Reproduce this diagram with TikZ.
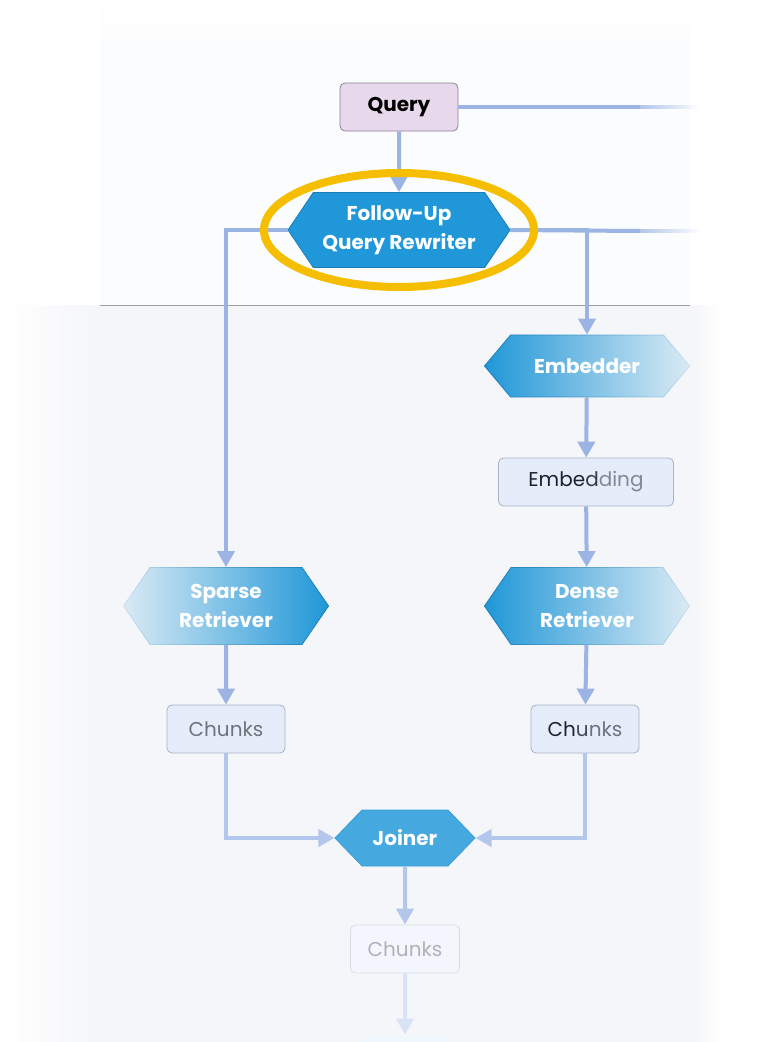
\documentclass[tikz,border=0pt]{standalone}
\usepackage{fontspec}
\setmainfont{Poppins}
\usetikzlibrary{shapes.symbols,arrows.meta,fadings}

\definecolor{flowc}{HTML}{9BB4E4}
\definecolor{flowlight}{HTML}{B3C7EC}
\definecolor{flowpale}{HTML}{D9E3F5}
\definecolor{hexblue}{HTML}{1F97D8}
\definecolor{joinblue}{HTML}{45A8DE}
\definecolor{hexedge}{HTML}{1A7DB5}
\definecolor{queryfill}{HTML}{E7D9EB}
\definecolor{queryedge}{HTML}{8E8096}
\definecolor{boxfill}{HTML}{E5EDFA}
\definecolor{boxedge}{HTML}{A9B3C6}
\definecolor{ring}{HTML}{F6BE00}
\definecolor{panel}{HTML}{F5F6F9}
\definecolor{inkdark}{HTML}{1E2230}
\definecolor{inkgrey}{HTML}{6F737C}

% soft edges
\tikzfading[name=fade east, left color=transparent!0, right color=transparent!100]
\tikzfading[name=fade west, left color=transparent!100, right color=transparent!0]
\tikzfading[name=fade north, top color=transparent!100, bottom color=transparent!0]
\tikzfading[name=hex east, left color=transparent!0, middle color=transparent!0, right color=transparent!88]
\tikzfading[name=hex west, left color=transparent!88, middle color=transparent!0, right color=transparent!0]

\tikzset{
  flow/.style={draw=flowc, line width=4pt},
  tip/.style={-{Triangle[width=17pt,length=16pt]}},
  hexa/.style={shape=signal, signal to=east and west, fill=hexblue, draw=hexedge,
    line width=0.8pt, text=white, align=center, inner sep=0pt,
    font=\fontsize{20}{29}\selectfont\bfseries},
  qbox/.style={rounded corners=5pt, fill=queryfill, draw=queryedge, line width=0.8pt,
    minimum width=118pt, minimum height=48pt, inner sep=0pt,
    font=\fontsize{20}{24}\selectfont\bfseries, text=black},
  databox/.style={rounded corners=5pt, fill=boxfill, draw=boxedge, line width=0.8pt,
    minimum height=48pt, inner sep=0pt, font=\fontsize{20}{24}\selectfont, text=inkgrey},
  ringline/.style={draw=ring, line width=8pt}
}

\begin{document}
\begin{tikzpicture}[x=1pt,y=-1pt]
\useasboundingbox (0,0) rectangle (780,1042);
\fill[white] (0,0) rectangle (780,1042);

% background panels
\fill[panel!35, path fading=fade north] (100,0) rectangle (690,80);
\fill[panel!35] (100,40) rectangle (690,305);
\fill[panel] (100,305) rectangle (690,1042);
\fill[panel, path fading=fade west] (10,305) rectangle (100,1042);
\fill[panel, path fading=fade east] (690,305) rectangle (720,1042);
\draw[gray!75, line width=0.8pt] (100,305) -- (690,305);

% nodes
\node[qbox] (query) at (399,107) {Query};
\node[hexa, minimum width=222pt, minimum height=75pt, signal pointer angle=112] (rw) at (399,230) {Follow-Up\\Query Rewriter};
\node[hexa, minimum width=205pt, minimum height=62pt, signal pointer angle=100, path fading=hex east] (embr) at (587,366) {Embedder};
\node[databox, minimum width=175pt] (emb) at (586,482) {\textcolor{inkdark}{Embe}\textcolor{inkdark!70!inkgrey}{d}\textcolor{inkgrey!85}{ding}};
\node[hexa, minimum width=205pt, minimum height=77pt, signal pointer angle=111, path fading=hex east] (dense) at (587,606) {Dense\\Retriever};
\node[hexa, minimum width=205pt, minimum height=77pt, signal pointer angle=111, path fading=hex west] (sparse) at (226,606) {Sparse\\Retriever};
\node[databox, minimum width=118pt] (chl) at (226,729) {Chunks};
\node[databox, minimum width=108pt] (chr) at (585,729) {\textcolor{inkdark}{Ch}\textcolor{inkdark!50!inkgrey}{u}nks};
\node[hexa, fill=joinblue, draw=joinblue!80!hexedge, minimum width=140pt, minimum height=56pt, signal pointer angle=92] (join) at (405,838) {Joiner};
\node[databox, minimum width=109pt, fill=boxfill!45, draw=boxedge!45, text=inkgrey!55] (chb) at (405,949) {Chunks};
\node[hexa, fill=hexblue!7, draw=none, minimum width=130pt, minimum height=56pt, signal pointer angle=92] (next) at (405,1063) {};

% connectors
\draw[flow, tip] (query) -- (rw);
\coordinate (qfade) at (640,107);
\draw[flow] (query.east) -- (qfade);
\fill[flowc, path fading=fade east] (qfade) ++(-20,-2) rectangle (700,109);
\coordinate (rwfade) at (640,231);
\draw[flow] (rw.east) -- (rwfade);
\fill[flowc, path fading=fade east] (rwfade) ++(-20,-2) rectangle (700,233);
\draw[flow, tip] (rw.west) -| (sparse.north);
\draw[flow, tip] (rw.east) -| (embr.north);
\draw[flow, tip] (embr) -- (emb);
\draw[flow, tip] (emb) -- (dense);
\draw[flow, tip] (sparse) -- (chl);
\draw[flow, tip] (dense) -- (chr);
\draw[flow, draw=flowlight, tip] (chl.south) |- (join.west);
\draw[flow, draw=flowlight, tip] (chr.south) |- (join.east);
\draw[flow, draw=flowlight, tip] (join) -- (chb);
\draw[flow, draw=flowpale, tip] (chb) -- (next);

% highlight ring
\draw[ringline] (rw.center) ellipse [x radius=135, y radius=57];
\end{tikzpicture}
\end{document}
